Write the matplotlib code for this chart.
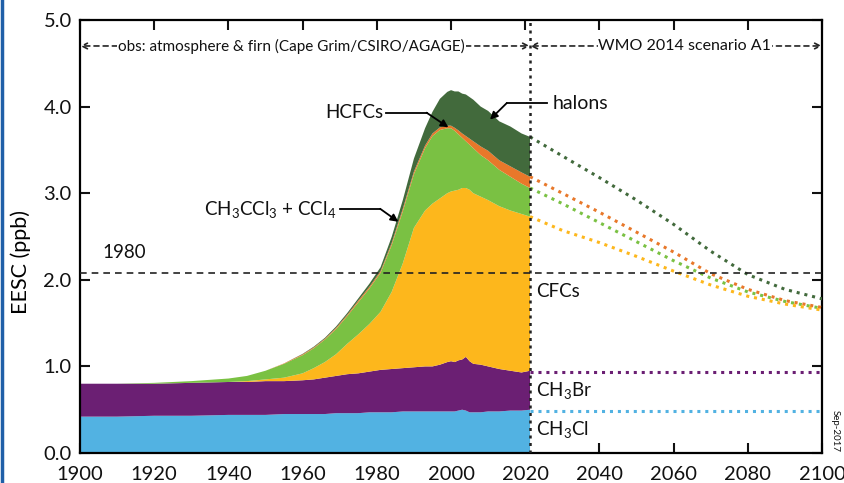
import numpy as np
import matplotlib
matplotlib.use('Agg')
import matplotlib.pyplot as plt
from matplotlib.lines import Line2D

plt.rcParams['font.family'] = ['Lato', 'DejaVu Sans']
plt.rcParams['mathtext.fontset'] = 'custom'
plt.rcParams['mathtext.rm'] = 'Lato'
plt.rcParams['mathtext.it'] = 'Lato'
plt.rcParams['text.color'] = '#111111'

# ---- observed period, contribution of each group (ppb) ----
years = [1900, 1910, 1920, 1930, 1940, 1945, 1950, 1955, 1960, 1963, 1966, 1969,
         1972, 1975, 1978, 1981, 1984, 1987, 1990, 1993, 1995, 1997, 1999, 2000,
         2001, 2002, 2003, 2004, 2005, 2006, 2008, 2010, 2013, 2016, 2019, 2021.3]

ch3cl = [0.42, 0.42, 0.43, 0.43, 0.44, 0.44, 0.44, 0.45, 0.45, 0.45, 0.45, 0.46,
         0.46, 0.46, 0.47, 0.47, 0.47, 0.48, 0.48, 0.48, 0.48, 0.48, 0.48, 0.48,
         0.48, 0.49, 0.50, 0.49, 0.47, 0.47, 0.47, 0.48, 0.48, 0.49, 0.49, 0.50]
ch3br = [0.38, 0.38, 0.37, 0.38, 0.38, 0.38, 0.39, 0.38, 0.39, 0.40, 0.42, 0.43,
         0.45, 0.46, 0.47, 0.49, 0.50, 0.50, 0.51, 0.52, 0.52, 0.54, 0.57, 0.58,
         0.57, 0.58, 0.58, 0.62, 0.59, 0.56, 0.55, 0.52, 0.49, 0.46, 0.44, 0.45]
cfcs = [0.00, 0.00, 0.00, 0.00, 0.00, 0.01, 0.02, 0.04, 0.08, 0.13, 0.18, 0.25,
        0.35, 0.45, 0.55, 0.67, 0.89, 1.21, 1.61, 1.80, 1.88, 1.92, 1.95, 1.96,
        1.98, 1.97, 1.98, 1.95, 1.98, 1.97, 1.94, 1.92, 1.88, 1.85, 1.83, 1.78]
ch3ccl3_ccl4 = [0.00, 0.00, 0.01, 0.02, 0.04, 0.06, 0.10, 0.16, 0.21, 0.23, 0.26, 0.29,
                0.32, 0.37, 0.41, 0.45, 0.54, 0.60, 0.62, 0.72, 0.78, 0.79, 0.75, 0.73,
                0.69, 0.64, 0.58, 0.54, 0.52, 0.52, 0.48, 0.46, 0.42, 0.39, 0.35, 0.33]
hcfcs = [0.00, 0.00, 0.00, 0.00, 0.00, 0.00, 0.00, 0.005, 0.01, 0.01, 0.01, 0.015,
         0.015, 0.02, 0.02, 0.02, 0.025, 0.03, 0.03, 0.03, 0.03, 0.03, 0.03, 0.03,
         0.035, 0.045, 0.05, 0.06, 0.07, 0.08, 0.10, 0.11, 0.11, 0.12, 0.13, 0.13]
halons = [0.00, 0.00, 0.00, 0.00, 0.00, 0.00, 0.00, 0.00, 0.005, 0.008, 0.01, 0.015,
          0.02, 0.025, 0.035, 0.045, 0.07, 0.10, 0.15, 0.20, 0.25, 0.33, 0.39, 0.41,
          0.42, 0.45, 0.46, 0.48, 0.48, 0.48, 0.46, 0.46, 0.45, 0.46, 0.45, 0.46]

# ---- WMO 2014 scenario A1 projections (cumulative EESC, ppb) ----
proj_years = [2021.3, 2030, 2040, 2050, 2060, 2070, 2080, 2090, 2100]
proj_halons = [3.65, 3.43, 3.18, 2.92, 2.64, 2.33, 2.06, 1.89, 1.78]
proj_hcfcs = [3.19, 3.00, 2.78, 2.55, 2.32, 2.07, 1.89, 1.76, 1.68]
proj_ch3ccl3 = [3.06, 2.88, 2.66, 2.44, 2.22, 2.02, 1.86, 1.75, 1.67]
proj_cfcs = [2.73, 2.57, 2.43, 2.27, 2.10, 1.94, 1.81, 1.72, 1.65]
proj_ch3br = [0.94, 0.94]
proj_ch3cl = [0.49, 0.49]

level_1980 = 2.08
obs_end = 2021.3

C_BLUE = '#52B2E2'
C_PURPLE = '#6B1F73'
C_YELLOW = '#FDB71C'
C_LGREEN = '#7AC143'
C_ORANGE = '#E8782A'
C_DGREEN = '#426A3C'
INK = '#111111'

fig = plt.figure(figsize=(8.44, 4.83), dpi=100)
ax = fig.add_axes([0.0948, 0.0621, 0.974 - 0.0948, 0.9586 - 0.0621])

ax.stackplot(years, ch3cl, ch3br, cfcs, ch3ccl3_ccl4, hcfcs, halons,
             colors=[C_BLUE, C_PURPLE, C_YELLOW, C_LGREEN, C_ORANGE, C_DGREEN],
             linewidth=0, zorder=2)

dot = (0, (1, 1.6))
ax.plot(proj_years, proj_halons, color=C_DGREEN, ls=dot, lw=2.2, zorder=3)
ax.plot(proj_years, proj_hcfcs, color=C_ORANGE, ls=dot, lw=2.2, zorder=3)
ax.plot(proj_years, proj_ch3ccl3, color=C_LGREEN, ls=dot, lw=2.2, zorder=3)
ax.plot(proj_years, proj_cfcs, color=C_YELLOW, ls=dot, lw=2.2, zorder=3)
ax.plot([obs_end, 2100], proj_ch3br, color=C_PURPLE, ls=dot, lw=2.2, zorder=3)
ax.plot([obs_end, 2100], proj_ch3cl, color=C_BLUE, ls=dot, lw=2.2, zorder=3)

# 1980 level and divider
ax.axhline(level_1980, color='#222222', ls=(0, (4, 3)), lw=1.2, zorder=4)
ax.text(1906, 2.32, '1980', fontsize=13.5, va='center')
ax.axvline(obs_end, color='#222222', ls=(0, (1.2, 1.8)), lw=1.8, zorder=4)

# period arrows at the top
arr_y = 4.70
aprops = dict(arrowstyle='->', color='#222222', lw=1.2, linestyle=(0, (3, 2.5)),
              shrinkA=0, shrinkB=0)
ax.annotate('', xy=(1900, arr_y), xytext=(1957, arr_y), arrowprops=aprops)
ax.annotate('', xy=(obs_end, arr_y), xytext=(1957, arr_y), arrowprops=aprops)
ax.annotate('', xy=(obs_end, arr_y), xytext=(2063, arr_y), arrowprops=aprops)
ax.annotate('', xy=(2100, arr_y), xytext=(2063, arr_y), arrowprops=aprops)
box = dict(facecolor='white', edgecolor='none', pad=0.5)
ax.text(1957, arr_y, 'obs: atmosphere & firn (Cape Grim/CSIRO/AGAGE)',
        ha='center', va='center', fontsize=11, bbox=box, zorder=5)
ax.text(2063, arr_y, 'WMO 2014 scenario A1', ha='center', va='center',
        fontsize=11.5, bbox=box, zorder=5)

# labelled arrows
lprops = dict(arrowstyle='-|>', color='black', lw=1.3, mutation_scale=11,
              shrinkA=0, shrinkB=0)
ax.text(1981.8, 3.93, 'HCFCs', ha='right', va='center', fontsize=13.5)
ax.plot([1982.6, 1993.4], [3.93, 3.93], color='black', lw=1.3, zorder=5)
ax.annotate('', xy=(1999.3, 3.76), xytext=(1993.4, 3.93), arrowprops=lprops, zorder=5)

ax.text(2027.5, 4.04, 'halons', ha='left', va='center', fontsize=14)
ax.plot([2025.8, 2015.0], [4.04, 4.04], color='black', lw=1.3, zorder=5)
ax.annotate('', xy=(2010.5, 3.85), xytext=(2015.0, 4.04), arrowprops=lprops, zorder=5)

ax.text(1969.0, 2.81, r'CH$_3$CCl$_3$ + CCl$_4$', ha='right', va='center', fontsize=13.5)
ax.plot([1970.1, 1980.9], [2.82, 2.82], color='black', lw=1.3, zorder=5)
ax.annotate('', xy=(1985.8, 2.67), xytext=(1980.9, 2.82), arrowprops=lprops, zorder=5)

ax.text(2023, 1.86, 'CFCs', ha='left', va='center', fontsize=13.5)
ax.text(2023, 0.72, r'CH$_3$Br', ha='left', va='center', fontsize=13.5)
ax.text(2023, 0.27, r'CH$_3$Cl', ha='left', va='center', fontsize=13.5)
ax.text(2102.3, 0.25, 'Sep-2017', rotation=-90, ha='left', va='center', fontsize=7)

ax.set_xlim(1900, 2100)
ax.set_ylim(0, 5)
ax.set_xticks(range(1900, 2101, 20))
ax.set_yticks(np.arange(0, 5.01, 1.0))
ax.set_yticklabels([f'{v:.1f}' for v in np.arange(0, 5.01, 1.0)])
ax.tick_params(direction='in', length=7, width=1.5, labelsize=14.5,
               top=True, right=True, colors=INK)
ax.tick_params(axis='x', pad=9)
ax.tick_params(axis='y', pad=6)
for s in ax.spines.values():
    s.set_linewidth(1.6)
ax.set_ylabel('EESC (ppb)', fontsize=15.5)
ax.yaxis.set_label_coords(-0.066, 0.44)

# blue frame line at the left edge
fig.add_artist(Line2D([0.002, 0.002], [0, 1], color='#1F5FA8', lw=2.5,
                      transform=fig.transFigure))

fig.savefig('out.png', dpi=100)
